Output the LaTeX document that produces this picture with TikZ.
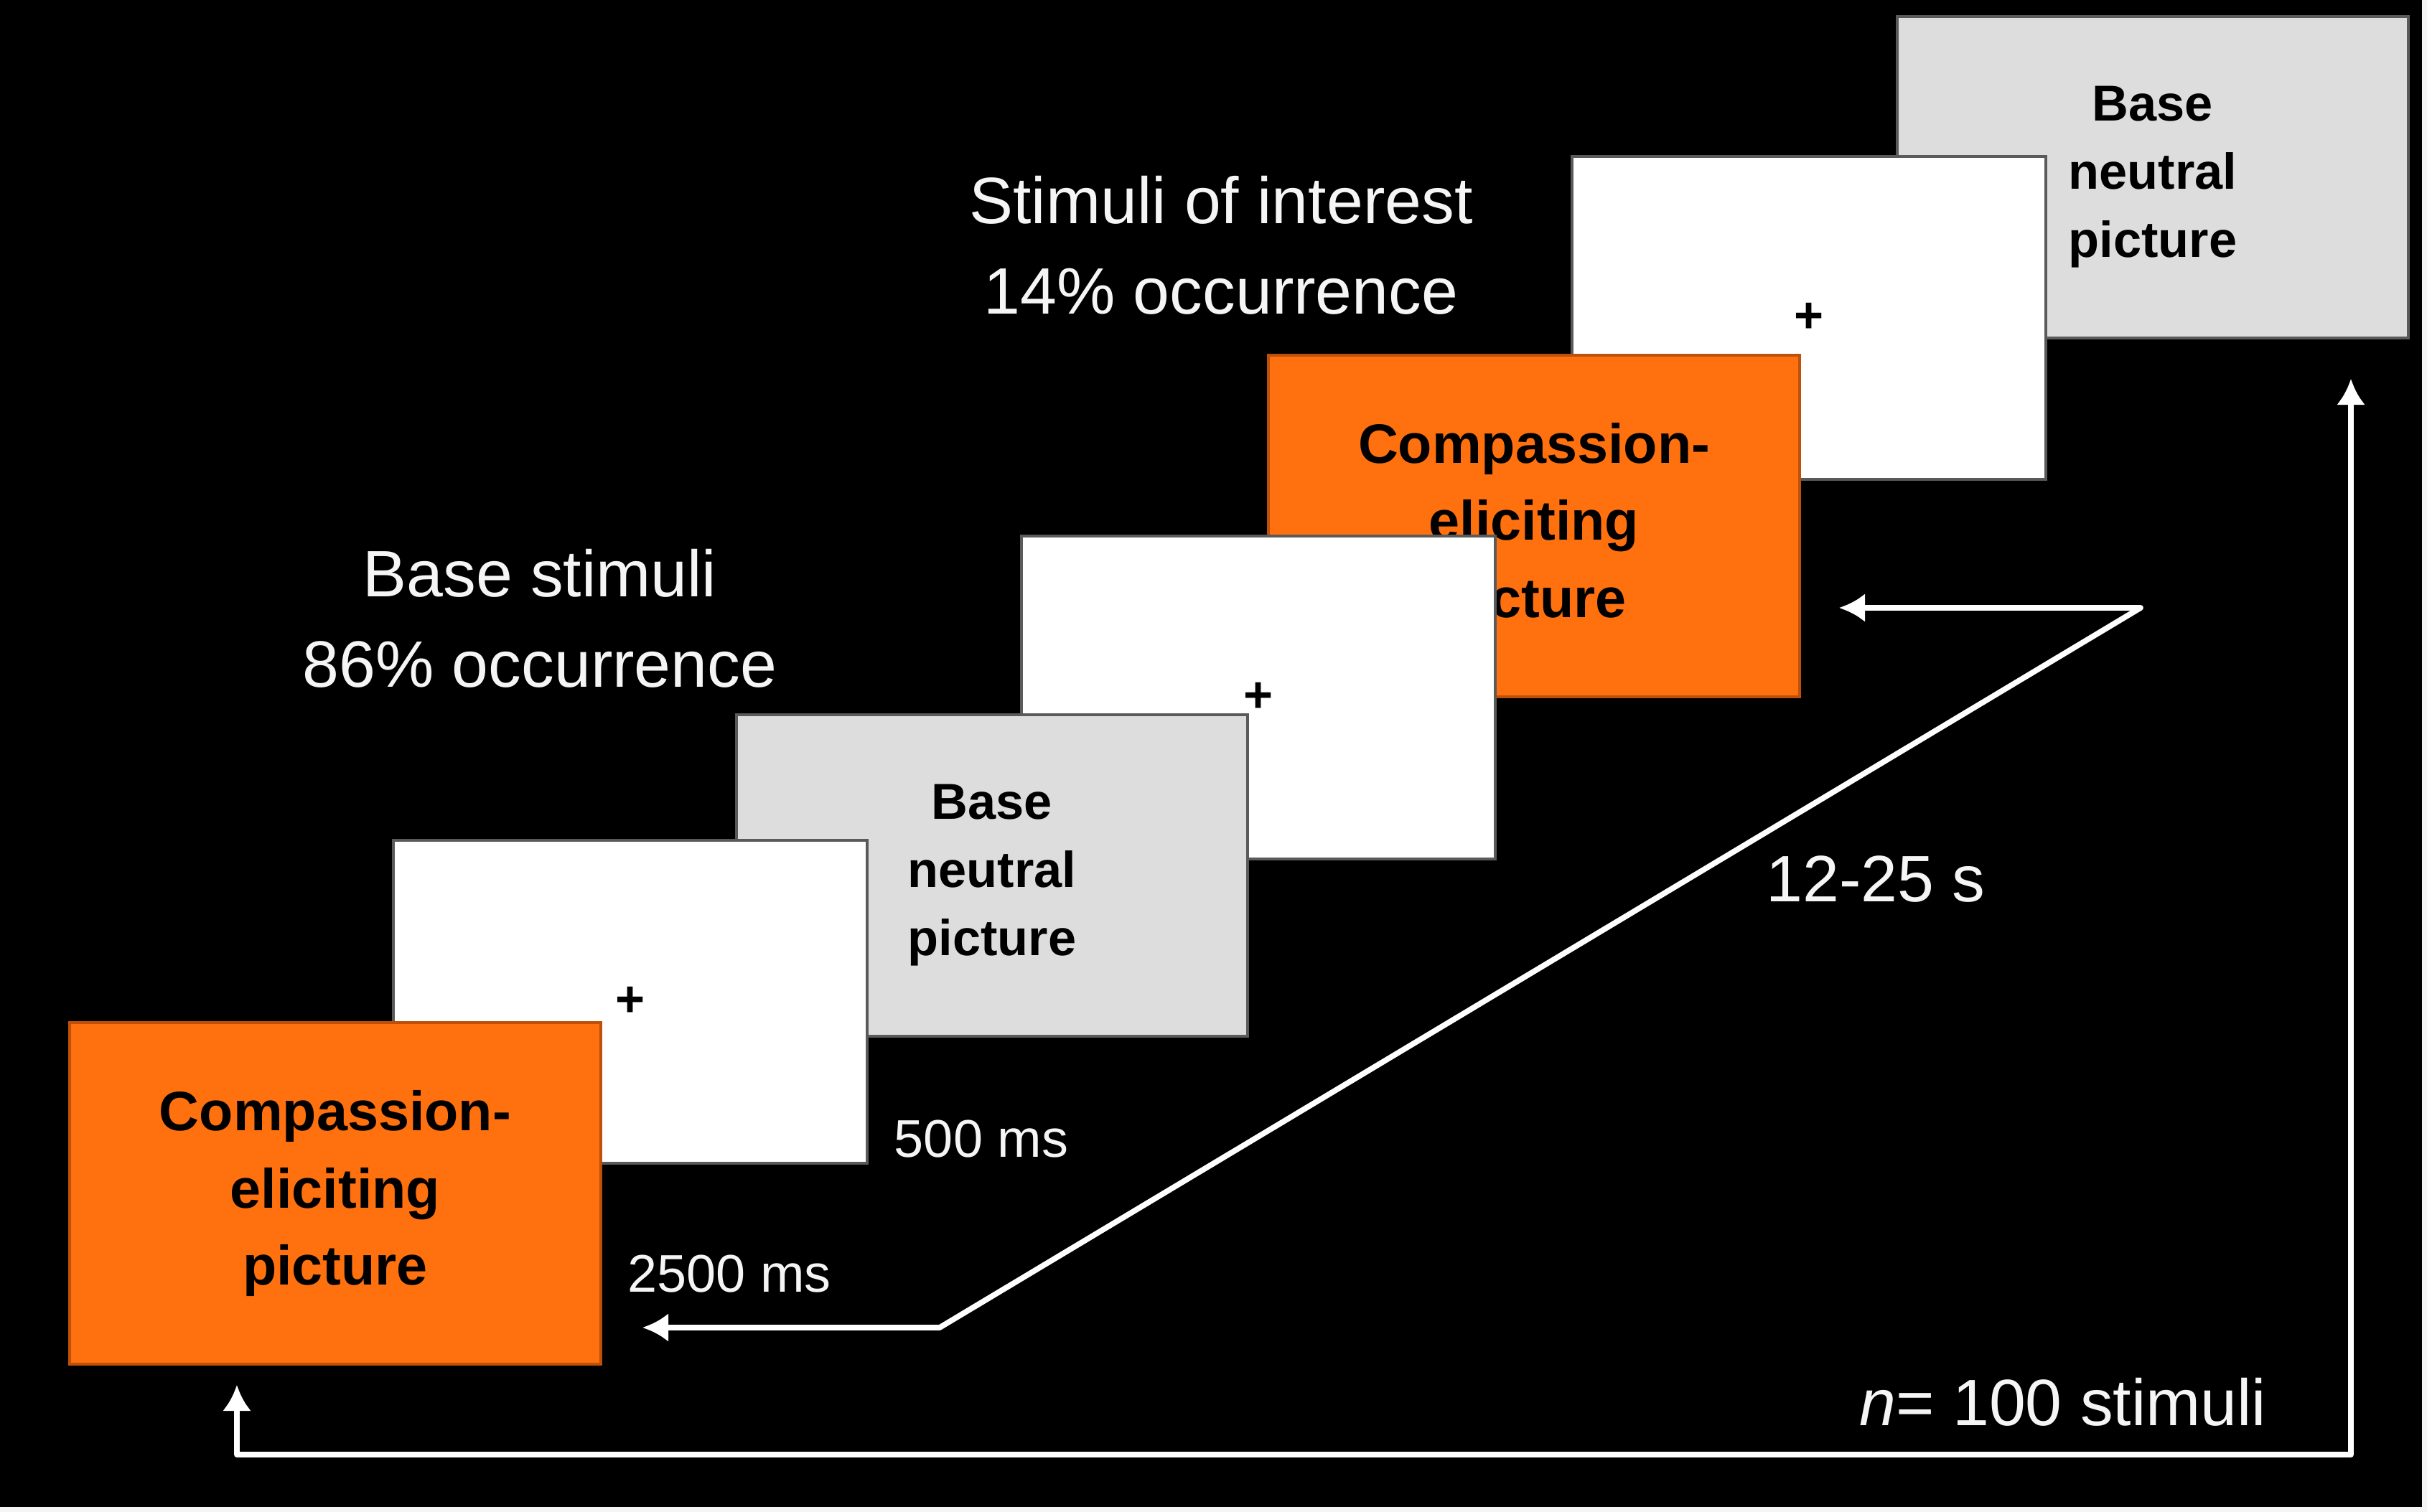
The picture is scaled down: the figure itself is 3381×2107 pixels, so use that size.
\documentclass[tikz,border=0pt]{standalone}
\usepackage{fontspec}
\setmainfont{Liberation Sans}
\usetikzlibrary{arrows.meta}
\definecolor{orangec}{RGB}{255,112,14}
\definecolor{orangeb}{RGB}{190,80,10}
\definecolor{grayfill}{RGB}{221,221,221}
\definecolor{boxline}{RGB}{90,90,90}
\definecolor{offwhite}{RGB}{245,245,245}
\begin{document}
\begin{tikzpicture}[x=0.01cm,y=-0.01cm,
 basebox/.style={inner sep=0pt, outer sep=0pt, line width=1.2pt, align=center, text=black},
 orangebox/.style={basebox, fill=orangec, draw=orangeb, minimum width=7.4cm, minimum height=4.75cm, font=\fontsize{22}{30.7}\selectfont\bfseries},
 whitebox/.style={basebox, fill=white, draw=boxline, minimum width=6.6cm, minimum height=4.5cm, font=\fontsize{20}{24}\selectfont\bfseries},
 graybox/.style={basebox, fill=grayfill, draw=boxline, minimum width=7.12cm, minimum height=4.48cm, font=\fontsize{20}{27}\selectfont\bfseries},
 whitetext/.style={text=offwhite, font=\fontsize{26}{36}\selectfont, align=center, inner sep=0pt},
 durtext/.style={text=offwhite, font=\fontsize{21}{25}\selectfont, inner sep=0pt},
 conn/.style={draw=white, line width=2.2pt, line join=round, {Latex[length=0.36cm,width=0.4cm]}-{Latex[length=0.36cm,width=0.4cm]}}
]
\fill[black] (0,0) rectangle (3381,2107);
\useasboundingbox (0,0) rectangle (3381,2107);
\fill[offwhite] (0,2100) rectangle (3381,2107);
\fill[offwhite] (3374,0) rectangle (3381,2107);

% stimuli cards, back to front
\node[graybox] (g2) at (2999,247) {Base\\neutral\\picture};
\node[whitebox] (w3) at (2520,443) {+};
\node[orangebox] (o2) at (2137,733) {Compassion-\\eliciting\\picture};
\node[whitebox] (w2) at (1753,972) {+};
\node[graybox] (g1) at (1382,1220) {Base\\neutral\\picture};
\node[whitebox] (w1) at (878,1396) {+};
\node[orangebox] (o1) at (467,1663) {Compassion-\\eliciting\\picture};

% labels
\node[whitetext] (tbase) at (752,862) {Base stimuli\\86\% occurrence};
\node[whitetext] (tint) at (1701,342) {Stimuli of interest\\14\% occurrence};
\node[whitetext] (tisi) at (2613,1225) {12-25 s};
\node[durtext] (t500) at (1367,1587) {500 ms};
\node[durtext] (t2500) at (1016,1775) {2500 ms};
\node[whitetext] (tn) at (2874,1954) {\textit{n}= 100 stimuli};

% connectors
\coordinate (z1) at (2562,847);
\coordinate (z2) at (2982,847);
\coordinate (z3) at (1309,1850);
\coordinate (z4) at (895,1850);
\draw[conn] (z1) -- (z2) -- (z3) -- (z4);

\coordinate (r1) at (3275,528);
\coordinate (r2) at (3275,2027);
\coordinate (r3) at (330,2027);
\coordinate (r4) at (330,1930);
\draw[conn] (r1) -- (r2) -- (r3) -- (r4);
\end{tikzpicture}
\end{document}
